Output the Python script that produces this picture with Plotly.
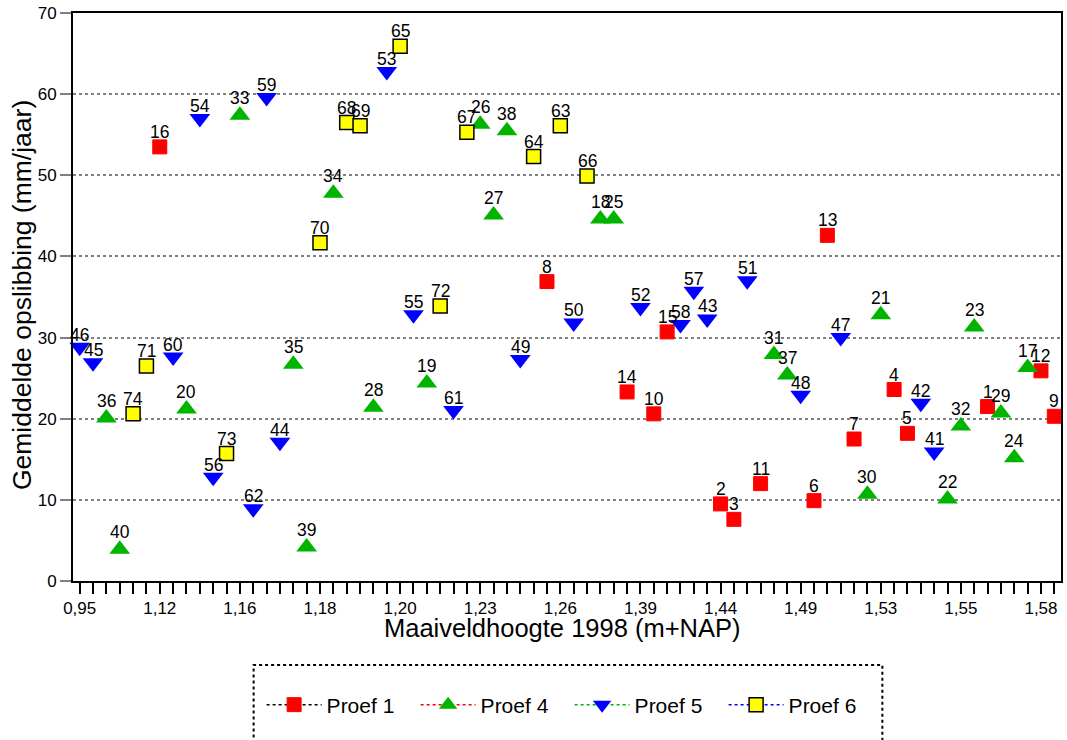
import plotly.graph_objects as go

# x-axis category order (sample numbers sorted by ground level 1998)
order = [46, 45, 36, 40, 74, 71, 16, 60, 20, 54, 56, 73, 33, 62, 59, 44, 35, 39,
         70, 34, 68, 69, 28, 53, 65, 55, 19, 72, 61, 67, 26, 27, 38, 49, 64, 8,
         63, 50, 66, 18, 25, 14, 52, 10, 15, 58, 57, 43, 2, 3, 51, 11, 31, 37,
         48, 6, 13, 47, 7, 30, 21, 4, 5, 42, 41, 22, 32, 23, 1, 29, 24, 17, 12, 9]
height_labels = ["0,95", "1,12", "1,16", "1,18", "1,20", "1,23", "1,26",
                 "1,39", "1,44", "1,49", "1,53", "1,55", "1,58"]
label_every = 6

# Proef 1
p1_ids = [1, 2, 3, 4, 5, 6, 7, 8, 9, 10, 11, 12, 13, 14, 15, 16]
p1_vals = [21.5, 9.5, 7.6, 23.6, 18.2, 9.9, 17.5, 36.9, 20.3, 20.6, 12.0, 25.9,
           42.6, 23.3, 30.7, 53.5]
# Proef 4
p4_ids = [17, 18, 19, 20, 21, 22, 23, 24, 25, 26, 27, 28, 29, 30, 31, 32, 33,
          34, 35, 36, 37, 38, 39, 40]
p4_vals = [26.3, 44.6, 24.4, 21.2, 32.8, 10.1, 31.3, 15.2, 44.6, 56.3, 45.1,
           21.4, 20.7, 10.7, 27.9, 19.1, 57.4, 47.8, 26.7, 20.1, 25.4, 55.5,
           4.2, 3.9]
# Proef 5
p5_ids = [41, 42, 43, 44, 45, 46, 47, 48, 49, 50, 51, 52, 53, 54, 55, 56, 57,
          58, 59, 60, 61, 62]
p5_vals = [15.9, 21.9, 32.3, 17.1, 26.9, 28.8, 30.0, 22.9, 27.3, 31.8, 37.0,
           33.7, 62.8, 57.0, 32.8, 12.8, 35.7, 31.6, 59.6, 27.6, 21.0, 8.9]
# Proef 6
p6_ids = [63, 64, 65, 66, 67, 68, 69, 70, 71, 72, 73, 74]
p6_vals = [56.1, 52.3, 65.9, 49.9, 55.3, 56.5, 56.1, 41.7, 26.5, 33.9, 15.7, 20.6]

FONT = "Liberation Sans, Arial, sans-serif"

# name, ids, values, symbol, size, fill, outline, outline width, legend line colour, label shift(px)
series = [
    ("Proef 1", p1_ids, p1_vals, "square", 14, "#FF0000", "#FF0000", 1, "black", 3),
    ("Proef 4", p4_ids, p4_vals, "triangle-up", 18, "#00B400", "#00B400", 0, "#FF0000", 5),
    ("Proef 5", p5_ids, p5_vals, "triangle-down", 18, "#0000FF", "#0000FF", 0, "#00B400", 0.5),
    ("Proef 6", p6_ids, p6_vals, "square", 14, "#FFFF00", "black", 1.5, "#0000FF", 3),
]

fig = go.Figure()
annotations = []
for name, ids, vals, sym, size, fill, lc, lw, legline, shift in series:
    fig.add_trace(go.Scatter(
        x=[str(i) for i in ids], y=vals, mode="markers",
        marker=dict(symbol=sym, size=size, color=fill, line=dict(color=lc, width=lw)),
        showlegend=False, name=name, cliponaxis=False,
    ))
    for i, v in zip(ids, vals):
        annotations.append(dict(
            x=order.index(i), y=v, xref="x", yref="y", text=str(i), showarrow=False,
            xanchor="center", yanchor="bottom", yshift=shift,
            font=dict(family=FONT, size=17.5, color="black")))
for name, ids, vals, sym, size, fill, lc, lw, legline, shift in series:
    fig.add_trace(go.Scatter(
        x=[None], y=[None], mode="lines+markers", name=name,
        line=dict(color=legline, width=1.5, dash="dot"),
        marker=dict(symbol=sym, size=size, color=fill, line=dict(color=lc, width=lw)),
        showlegend=True,
    ))

ticktext = [height_labels[k // label_every] if k % label_every == 0 else ""
            for k in range(len(order))]

annotations += [
    dict(text="Maaiveldhoogte 1998 (m+NAP)", xref="paper", yref="paper",
         x=(563 - 73) / 990, y=(581 - 628) / 568, xanchor="center", yanchor="middle",
         showarrow=False, font=dict(family=FONT, size=25.5, color="black")),
    dict(text="Gemiddelde opslibbing (mm/jaar)", xref="paper", yref="paper",
         x=(22 - 73) / 990, y=(581 - 295) / 568, xanchor="center", yanchor="middle",
         textangle=-90, showarrow=False,
         font=dict(family=FONT, size=26.5, color="black")),
]

fig.update_layout(
    width=1067, height=740,
    margin=dict(l=73, r=4, t=13, b=159),
    paper_bgcolor="white", plot_bgcolor="white",
    font=dict(family=FONT, color="black"),
    xaxis=dict(
        type="category", categoryorder="array",
        categoryarray=[str(i) for i in order],
        tickmode="array", tickvals=[str(i) for i in order], ticktext=ticktext,
        range=[-0.5, len(order) - 0.5],
        showgrid=False, zeroline=False,
        showline=True, linecolor="black", linewidth=2, mirror=True,
        ticks="outside", ticklen=11, tickwidth=2, tickcolor="black",
        tickfont=dict(family=FONT, size=17, color="black"),
    ),
    yaxis=dict(
        range=[0, 70], tickmode="array", tickvals=[0, 10, 20, 30, 40, 50, 60, 70],
        showgrid=True, gridcolor="#808080", griddash="dot", gridwidth=1.5,
        zeroline=False,
        showline=True, linecolor="black", linewidth=2, mirror=True,
        ticks="outside", ticklen=11, tickwidth=2, tickcolor="#808080",
        tickfont=dict(family=FONT, size=17, color="black"),
    ),
    legend=dict(
        orientation="h", x=(262 - 73) / 990, xanchor="left",
        y=(581 - 705) / 568, yanchor="middle",
        font=dict(family=FONT, size=21, color="black"),
        bgcolor="rgba(0,0,0,0)", borderwidth=0,
        itemwidth=55, entrywidth=84,
    ),
    annotations=annotations,
    shapes=[
        dict(type="rect", xref="paper", yref="paper",
             x0=(254 - 73) / 990, x1=(884 - 73) / 990,
             y0=(581 - 760) / 568, y1=(581 - 665) / 568,
             line=dict(color="black", width=2, dash="dot"), fillcolor="rgba(0,0,0,0)"),
    ],
)

fig.write_html("out.html")
